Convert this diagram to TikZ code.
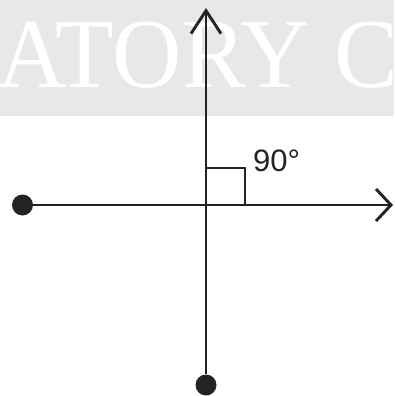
\documentclass[tikz,border=0pt]{standalone}
\usepackage{fontspec}
\usetikzlibrary{arrows.meta}
\newfontfamily\wmfont{Liberation Serif}
\newfontfamily\lblfont{Liberation Sans}
\definecolor{band}{RGB}{232,232,232}
\definecolor{ink}{RGB}{35,35,35}
\tikzset{
  dotnode/.style={circle,fill=ink,inner sep=0pt,minimum size=21pt},
  axis/.style={draw=ink,line width=2.9pt},
  rightmark/.style={draw=ink,line width=2.7pt},
}
\begin{document}
\begin{tikzpicture}[x=1pt,y=-1pt]
\useasboundingbox (0,0) rectangle (394,396);
\fill[band] (0,0) rectangle (394,116);
\node[anchor=base west,inner sep=0pt,text=white,font=\wmfont\fontsize{99}{99}\selectfont,xscale=0.97,transform shape] (wm) at (-3,88) {ATORY C};
\node[dotnode] (left) at (22.5,205) {};
\node[dotnode] (bottom) at (206,385) {};
\coordinate (top) at (206,8);
\coordinate (right) at (393,205);
\coordinate (origin) at (206,205);
\draw[axis,-{Straight Barb[length=23pt,width=30pt]}] (bottom) -- (top);
\draw[axis,-{Straight Barb[length=15pt,width=32pt]}] (left) -- (right);
\draw[rightmark] (origin) rectangle (245,168);
\node[anchor=base west,inner sep=0pt,text=ink,font=\lblfont\fontsize{31}{31}\selectfont] (lbl) at (253,171) {90°};
\end{tikzpicture}
\end{document}
